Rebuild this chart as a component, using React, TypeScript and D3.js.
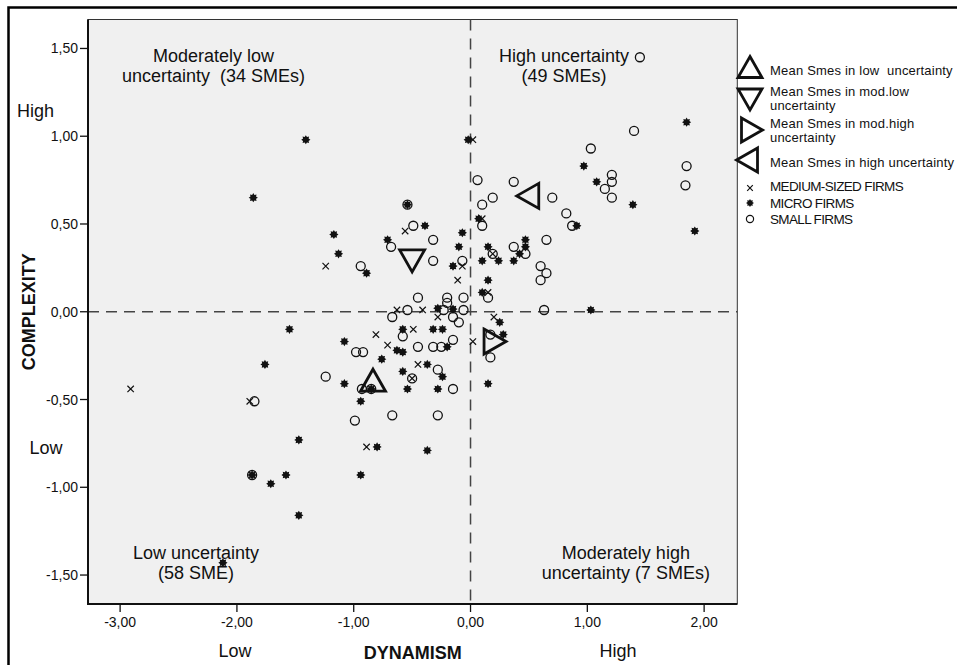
import React from "react";
import * as d3 from "d3";

// ---------- data ----------
const xTicks = [-3, -2, -1, 0, 1, 2];
const yTicks = [-1.5, -1, -0.5, 0, 0.5, 1, 1.5];

const mediumFirms: [number, number][] = [
  [-2.91, -0.44], [-1.89, -0.51], [-0.81, -0.13], [-0.89, -0.77], [-0.56, 0.46],
  [-1.24, 0.26], [-0.07, 0.26], [-0.11, 0.18], [0.15, 0.11], [0.02, 0.98],
  [0.10, 0.53], [0.19, 0.33], [-0.63, 0.01], [-0.41, 0.01], [-0.28, -0.03],
  [0.20, -0.03], [-0.49, -0.10], [0.02, -0.17], [-0.71, -0.19], [-0.45, -0.30],
  [-0.50, -0.38],
];

const microFirms: [number, number][] = [
  [-1.86, 0.65], [-1.41, 0.98], [-1.55, -0.10], [-1.08, -0.17], [-0.76, -0.27],
  [-1.76, -0.30], [-1.08, -0.41], [-0.85, -0.44], [-0.94, -0.51], [-1.47, -0.73],
  [-0.80, -0.77], [-1.87, -0.93], [-1.71, -0.98], [-1.58, -0.93], [-0.94, -0.93],
  [-1.47, -1.16], [-2.12, -1.43], [-0.54, 0.61], [-0.39, 0.49], [-1.17, 0.44],
  [-0.07, 0.45], [0.07, 0.53], [-0.71, 0.41], [-0.10, 0.37], [0.15, 0.37],
  [0.24, 0.29], [-1.13, 0.33], [0.10, 0.29], [-0.15, 0.26], [-0.89, 0.22],
  [0.15, 0.18], [0.10, 0.11], [-0.28, 0.02], [-0.15, 0.015], [0.25, -0.06],
  [0.28, -0.13], [-0.58, -0.10], [-0.32, -0.10], [-0.24, -0.10], [-0.63, -0.22],
  [-0.58, -0.23], [-0.20, -0.20], [-0.37, -0.30], [-0.58, -0.34], [-0.24, -0.37],
  [-0.54, -0.44], [-0.28, -0.44], [0.15, -0.41], [-0.37, -0.79], [-0.02, 0.98],
  [1.85, 1.08], [0.97, 0.83], [1.08, 0.74], [1.39, 0.61], [1.92, 0.46],
  [0.91, 0.49], [0.37, 0.29], [0.47, 0.41], [0.47, 0.37], [0.42, 0.33],
  [1.03, 0.01],
];

const smallFirms: [number, number][] = [
  [-0.98, -0.23], [-0.92, -0.23], [-1.24, -0.37], [-0.93, -0.44], [-0.85, -0.44],
  [-1.85, -0.51], [-0.99, -0.62], [-1.87, -0.93], [-0.54, 0.61], [0.10, 0.61],
  [0.19, 0.65], [-0.49, 0.49], [0.10, 0.49], [-0.68, 0.37], [-0.32, 0.41],
  [0.19, 0.33], [-0.32, 0.29], [-0.07, 0.29], [-0.94, 0.26], [0.15, 0.08],
  [-0.45, 0.08], [-0.20, 0.08], [-0.20, 0.05], [-0.06, 0.08], [-0.54, 0.01],
  [-0.23, 0.01], [-0.06, 0.01], [-0.67, -0.03], [-0.15, -0.03], [-0.10, -0.06],
  [-0.58, -0.14], [-0.15, -0.16], [0.17, -0.13], [0.17, -0.26], [-0.45, -0.20],
  [-0.32, -0.20], [-0.25, -0.20], [-0.28, -0.33], [-0.50, -0.38], [-0.15, -0.44],
  [-0.67, -0.59], [-0.28, -0.59], [1.45, 1.45], [1.40, 1.03], [1.03, 0.93],
  [1.85, 0.83], [1.21, 0.78], [1.21, 0.74], [1.15, 0.70], [1.21, 0.65],
  [1.84, 0.72], [0.06, 0.75], [0.37, 0.74], [0.70, 0.65], [0.82, 0.56],
  [0.87, 0.49], [0.37, 0.37], [0.47, 0.33], [0.65, 0.41], [0.60, 0.26],
  [0.65, 0.22], [0.60, 0.18], [0.63, 0.01],
];

type Dir = "up" | "down" | "right" | "left";
const meanGroups: string[] = [
  "Mean Smes in low  uncertainty",
  "Mean Smes in mod.low|uncertainty",
  "Mean Smes in mod.high|uncertainty",
  "Mean Smes in high uncertainty",
];
const meanDirs: Dir[] = ["up", "down", "right", "left"];
const meanX = [-0.835, -0.5, 0.21, 0.49];
const meanY = [-0.39, 0.29, -0.17, 0.66];

const firmLabels = ["MEDIUM-SIZED FIRMS", "MICRO FIRMS", "SMALL FIRMS"];

const quadrantLabels: { lines: string[]; x: number; y: number }[] = [
  { lines: ["Moderately low", "uncertainty  (34 SMEs)"], x: -2.2, y: 1.425 },
  { lines: ["High uncertainty", "(49 SMEs)"], x: 0.8, y: 1.425 },
  { lines: ["Low uncertainty", "(58 SME)"], x: -2.35, y: -1.41 },
  { lines: ["Moderately high", "uncertainty (7 SMEs)"], x: 1.33, y: -1.41 },
];

// ---------- layout ----------
const W = 957;
const H = 665;
const L = 88, R = 737.3, T = 19.5, B = 604;

const xScale = d3.scaleLinear().domain([-3.275, 2.284]).range([L, R]);
const yScale = d3.scaleLinear().domain([-1.665, 1.665]).range([B, T]);

const fmt = (v: number) => v.toFixed(2).replace(".", ",");
const FONT = "Arial, 'Liberation Sans', Helvetica, sans-serif";

function microPath(cx: number, cy: number, ro = 4.6, ri = 3.0) {
  const pts: [number, number][] = [];
  for (let i = 0; i < 16; i++) {
    const a = (Math.PI * i) / 8;
    const r = i % 2 === 0 ? ro : ri;
    pts.push([cx + r * Math.cos(a), cy + r * Math.sin(a)]);
  }
  return d3.line()(pts)! + "Z";
}

function crossPath(cx: number, cy: number, s = 3.2) {
  return `M${cx - s},${cy - s}L${cx + s},${cy + s}M${cx - s},${cy + s}L${cx + s},${cy - s}`;
}

function triPath(dir: Dir, cx: number, cy: number, b = 25, h = 22) {
  const pts: [number, number][] =
    dir === "up"
      ? [[cx, cy - h / 2], [cx + b / 2, cy + h / 2], [cx - b / 2, cy + h / 2]]
      : dir === "down"
      ? [[cx - b / 2, cy - h / 2], [cx + b / 2, cy - h / 2], [cx, cy + h / 2]]
      : dir === "right"
      ? [[cx - h / 2, cy - b / 2], [cx + h / 2, cy], [cx - h / 2, cy + b / 2]]
      : [[cx + h / 2, cy - b / 2], [cx - h / 2, cy], [cx + h / 2, cy + b / 2]];
  return d3.line()(pts)! + "Z";
}

const legendTriPos: [number, number][] = [[750, 67], [750, 99.5], [752, 130], [747, 160]];
const legendTextY: number[] = [75, 96, 127.5, 167];
const legendLineGap = 14;
const legendFirmY = [188, 203, 219];
const legendFirmTextY = [191, 207.5, 224];

export default function App() {
  const x0 = xScale(0);
  const y0 = yScale(0);
  return (
    <svg
      width={W}
      height={H}
      style={{ position: "absolute", left: 0, top: 0, background: "#ffffff" }}
      fontFamily={FONT}
    >
      <rect x={0} y={0} width={W} height={H} fill="#ffffff" />
      {/* outer frame */}
      <path d={`M8.5,${H}V7.5H${W}`} fill="none" stroke="#000" strokeWidth={2.5} />

      {/* plot background */}
      <rect x={L} y={T} width={R - L} height={B - T} fill="#f0f0f0" stroke="#333" strokeWidth={1} />

      {/* reference lines */}
      <line x1={L} x2={R} y1={y0} y2={y0} stroke="#444" strokeWidth={1.5} strokeDasharray="11 7" />
      <line x1={x0} x2={x0} y1={T} y2={B} stroke="#444" strokeWidth={1.5} strokeDasharray="11 8" />

      {/* axes */}
      <line x1={L} x2={L} y1={T} y2={B + 1} stroke="#111" strokeWidth={2} />
      <line x1={L - 1} x2={R} y1={B} y2={B} stroke="#111" strokeWidth={2.2} />

      {yTicks.map((t) => (
        <g key={"y" + t}>
          <line x1={L - 8} x2={L} y1={yScale(t)} y2={yScale(t)} stroke="#111" strokeWidth={1.3} />
          <text x={L - 10} y={yScale(t) + 5} fontSize={14} textAnchor="end" fill="#111">
            {fmt(t)}
          </text>
        </g>
      ))}
      {xTicks.map((t) => (
        <g key={"x" + t}>
          <line x1={xScale(t)} x2={xScale(t)} y1={B} y2={B + 8} stroke="#111" strokeWidth={1.3} />
          <text x={xScale(t)} y={627} fontSize={14} textAnchor="middle" fill="#111">
            {fmt(t)}
          </text>
        </g>
      ))}

      {/* axis titles */}
      <text x={(L + R) / 2} y={659} fontSize={18} fontWeight="bold" textAnchor="middle" fill="#111">
        DYNAMISM
      </text>
      <text
        transform={`translate(34.5,${y0}) rotate(-90)`}
        fontSize={18}
        fontWeight="bold"
        textAnchor="middle"
        fill="#111"
      >
        COMPLEXITY
      </text>
      <text x={235} y={657} fontSize={18} textAnchor="middle" fill="#111">Low</text>
      <text x={618} y={657} fontSize={18} textAnchor="middle" fill="#111">High</text>
      <text x={35.5} y={117} fontSize={18} textAnchor="middle" fill="#111">High</text>
      <text x={46} y={454} fontSize={18} textAnchor="middle" fill="#111">Low</text>

      {/* quadrant labels */}
      {quadrantLabels.map((q, i) => (
        <text
          key={"q" + i}
          x={xScale(q.x)}
          y={yScale(q.y)}
          fontSize={18}
          textAnchor="middle"
          fill="#111"
          style={{ whiteSpace: "pre" }}
        >
          {q.lines.map((ln, j) => (
            <tspan key={j} x={xScale(q.x)} dy={j === 0 ? 0 : 20}>
              {ln}
            </tspan>
          ))}
        </text>
      ))}

      {/* points */}
      {smallFirms.map(([a, b], i) => (
        <circle key={"s" + i} cx={xScale(a)} cy={yScale(b)} r={4.5} fill="none" stroke="#111" strokeWidth={1.3} />
      ))}
      {mediumFirms.map(([a, b], i) => (
        <path key={"m" + i} d={crossPath(xScale(a), yScale(b))} stroke="#111" strokeWidth={1.2} fill="none" />
      ))}
      {microFirms.map(([a, b], i) => (
        <path key={"u" + i} d={microPath(xScale(a), yScale(b))} fill="#111" stroke="none" />
      ))}

      {/* means */}
      {meanDirs.map((d, i) => (
        <path
          key={"t" + i}
          d={triPath(d, xScale(meanX[i]), yScale(meanY[i]))}
          fill="none"
          stroke="#111"
          strokeWidth={2.8}
        />
      ))}

      {/* legend */}
      {meanDirs.map((d, i) => (
        <g key={"lg" + i}>
          <path
            d={triPath(d, legendTriPos[i][0], legendTriPos[i][1], 24, 21)}
            fill="none"
            stroke="#111"
            strokeWidth={2.8}
          />
          <text
            x={770}
            y={legendTextY[i]}
            fontSize={13}
            letterSpacing={0.2}
            fill="#111"
            style={{ whiteSpace: "pre" }}
          >
            {meanGroups[i].split("|").map((ln, j) => (
              <tspan key={j} x={770} dy={j === 0 ? 0 : legendLineGap}>
                {ln}
              </tspan>
            ))}
          </text>
        </g>
      ))}
      <path d={crossPath(750, legendFirmY[0], 2.8)} stroke="#111" strokeWidth={1.2} fill="none" />
      <path d={microPath(750, legendFirmY[1], 4, 2.6)} fill="#111" />
      <circle cx={750} cy={legendFirmY[2]} r={3.6} fill="none" stroke="#111" strokeWidth={1.2} />
      {firmLabels.map((t, i) => (
        <text key={"fl" + i} x={770} y={legendFirmTextY[i]} fontSize={13.5} letterSpacing={-0.65} fill="#111">
          {t}
        </text>
      ))}
    </svg>
  );
}
